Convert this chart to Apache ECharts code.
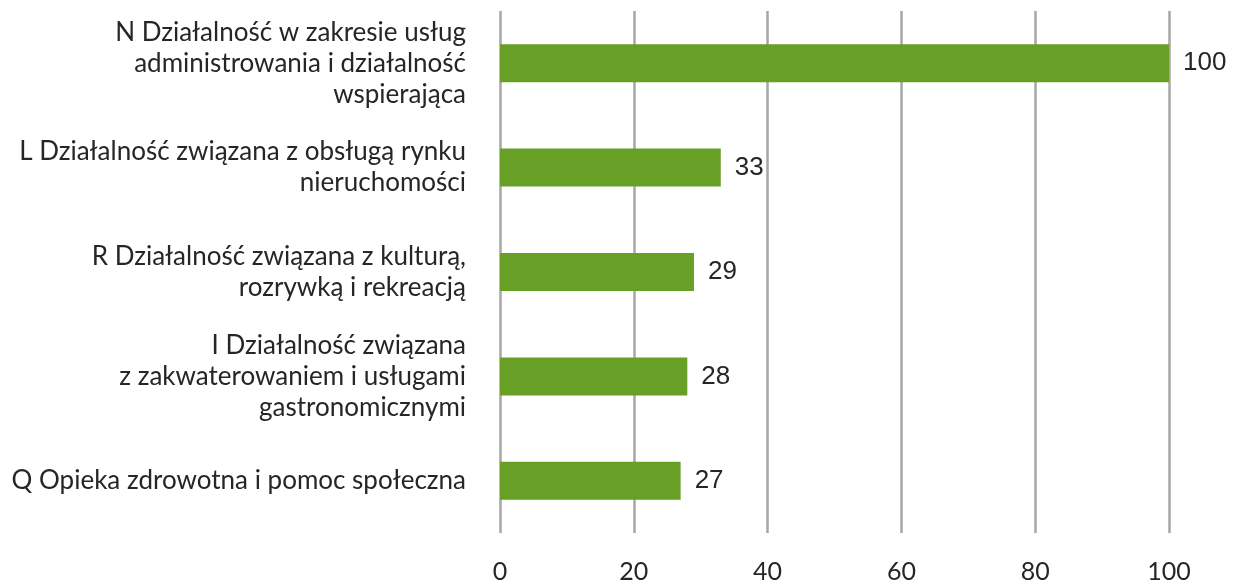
<!DOCTYPE html>
<html>
<head>
<meta charset="utf-8">
<script src="https://cdn.jsdelivr.net/npm/echarts@6/dist/echarts.min.js"></script>
<style>
  html, body { margin: 0; padding: 0; background: #fff; }
  #chart { width: 1243px; height: 586px; }
</style>
</head>
<body>
<div id="chart"></div>
<script>
// Sections of economic activity (top to bottom)
const categories = [
  'N Działalność w zakresie usług\nadministrowania i działalność\nwspierająca',
  'L Działalność związana z obsługą rynku\nnieruchomości',
  'R Działalność związana z kulturą,\nrozrywką i rekreacją',
  'I Działalność związana\nz zakwaterowaniem i usługami\ngastronomicznymi',
  'Q Opieka zdrowotna i pomoc społeczna'
];
const values = [100, 33, 29, 28, 27];
const xTicks = [0, 20, 40, 60, 80, 100];

const chart = echarts.init(document.getElementById('chart'));
chart.setOption({
  animation: false,
  grid: { left: 500, right: 74, top: 11, bottom: 53, containLabel: false },
  xAxis: {
    type: 'value',
    min: xTicks[0],
    max: xTicks[xTicks.length - 1],
    interval: xTicks[1] - xTicks[0],
    axisLine: { show: false },
    axisTick: { show: false },
    splitLine: { show: true, lineStyle: { color: '#a6a6a6', width: 2.5 } },
    axisLabel: {
      margin: 26,
      color: '#262626',
      fontFamily: 'Lato',
      fontSize: 25
    }
  },
  yAxis: {
    type: 'category',
    inverse: true,
    data: categories,
    axisLine: { show: false },
    axisTick: { show: false },
    axisLabel: {
      margin: 34,
      color: '#262626',
      fontFamily: 'Lato',
      fontSize: 26,
      lineHeight: 31,
      align: 'right'
    }
  },
  series: [{
    type: 'bar',
    data: values,
    barWidth: 38,
    itemStyle: { color: '#689f26' },
    label: {
      show: true,
      position: 'right',
      distance: 14,
      color: '#262626',
      fontFamily: 'Liberation Sans',
      fontSize: 26
    }
  }]
});
</script>
</body>
</html>
